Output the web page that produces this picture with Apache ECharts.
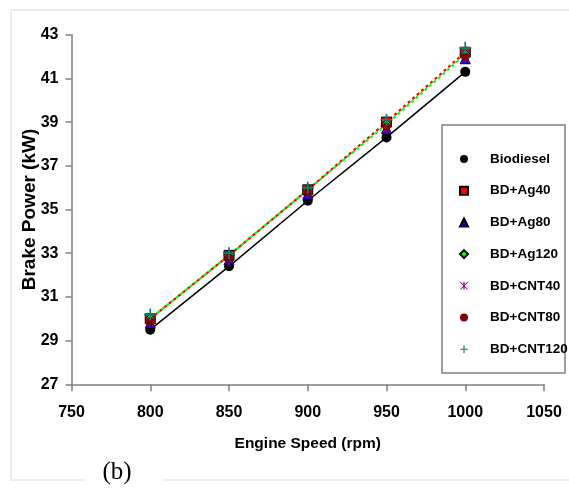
<!DOCTYPE html>
<html>
<head>
<meta charset="utf-8">
<script src="https://cdn.jsdelivr.net/npm/echarts@6/dist/echarts.min.js"></script>
<style>
html,body{margin:0;padding:0;background:#fff;}
#chart{width:569px;height:492px;}
</style>
</head>
<body>
<div id="chart"></div>
<script>
var speeds = [800, 850, 900, 950, 1000];
var xTicks = [750, 800, 850, 900, 950, 1000, 1050];
var yTicks = [27, 29, 31, 33, 35, 37, 39, 41, 43];

var biodiesel = [29.5, 32.4, 35.4, 38.3, 41.3];
var ag40 = [30.0, 32.9, 35.9, 39.0, 42.2];
var ag80 = [29.8, 32.7, 35.7, 38.7, 41.9];
var ag120 = [30.0, 32.9, 35.9, 38.9, 42.1];
var cnt40 = [29.8, 32.7, 35.7, 38.7, 41.9];
var cnt80 = [29.9, 32.8, 35.8, 38.8, 42.0];
var cnt120 = [30.2, 33.0, 36.0, 39.1, 42.4];

var sans = "'Liberation Sans',Arial,sans-serif";
var asterisk = 'path://M4.3,0H5.7V10H4.3Z M0,0.8L0.8,0L10,9.2L9.2,10Z M9.2,0L10,0.8L0.8,10L0,9.2Z';
var plus = 'path://M4.3,0H5.7V4.3H10V5.7H5.7V10H4.3V5.7H0V4.3H4.3Z';

function pairs(vals){
	var out = [];
	for (var i = 0; i < speeds.length; i++) out.push([speeds[i], vals[i]]);
	return out;
}

function mk(name, vals, symbol, size, color, border, line){
	return {
		name: name,
		type: 'line',
		data: pairs(vals),
		symbol: symbol,
		symbolSize: size,
		showSymbol: true,
		itemStyle: { color: color, borderColor: border || color, borderWidth: border ? 1 : 0 },
		lineStyle: line || { opacity: 0 },
		emphasis: { disabled: true },
		animation: false
	};
}

var myChart = echarts.init(document.getElementById('chart'));
var option = {
	backgroundColor: '#fff',
	grid: { left: 71.5, right: 25, top: 34.7, bottom: 107.7, containLabel: false },
	graphic: [
		{ type: 'rect', shape: { x: 11, y: 10, width: 570, height: 470 }, style: { fill: 'none', stroke: '#ececec', lineWidth: 2 }, z: -10 },
		{ type: 'rect', shape: { x: 85, y: 476, width: 78, height: 10 }, style: { fill: '#fff' }, z: -9 },
		{ type: 'text', x: 117, y: 472, style: { text: '(b)', font: "25px 'Liberation Serif','Times New Roman',serif", fill: '#000', align: 'center', verticalAlign: 'middle' }, z: -8 },
		{ type: 'rect', shape: { x: 442, y: 125, width: 123, height: 248 }, style: { fill: '#fff', stroke: '#808080', lineWidth: 1.5 }, z: 5 }
	],
	legend: {
		orient: 'vertical',
		left: 454,
		top: 147,
		itemWidth: 8,
		itemHeight: 8,
		itemGap: 17.7,
		z: 10,
		textStyle: { fontFamily: sans, fontWeight: 'bold', fontSize: 13.5, color: '#000', padding: [0, 0, 0, 17] },
		data: [
			{ name: 'Biodiesel', icon: 'circle' },
			{ name: 'BD+Ag40', icon: 'rect' },
			{ name: 'BD+Ag80', icon: 'triangle' },
			{ name: 'BD+Ag120', icon: 'diamond' },
			{ name: 'BD+CNT40', icon: asterisk },
			{ name: 'BD+CNT80', icon: 'circle' },
			{ name: 'BD+CNT120', icon: plus }
		]
	},
	xAxis: {
		type: 'value',
		min: xTicks[0],
		max: xTicks[xTicks.length - 1],
		interval: 50,
		name: 'Engine Speed (rpm)',
		nameLocation: 'middle',
		nameGap: 51,
		nameMoveOverlap: false,
		nameTextStyle: { fontFamily: sans, fontWeight: 'bold', fontSize: 15.5, color: '#000' },
		axisLine: { lineStyle: { color: '#808080', width: 1.5 } },
		axisTick: { inside: false, length: 7, lineStyle: { color: '#808080', width: 1.5 } },
		axisLabel: { margin: 20, fontFamily: sans, fontWeight: 'bold', fontSize: 16, color: '#000', formatter: function(v){ return String(v); } },
		splitLine: { show: false }
	},
	yAxis: {
		type: 'value',
		min: yTicks[0],
		max: yTicks[yTicks.length - 1],
		interval: 2,
		name: 'Brake Power (kW)',
		nameLocation: 'middle',
		nameGap: 32,
		nameMoveOverlap: false,
		nameTextStyle: { fontFamily: sans, fontWeight: 'bold', fontSize: 19, color: '#000' },
		axisLine: { show: true, lineStyle: { color: '#808080', width: 1.5 } },
		axisTick: { show: true, inside: false, length: 6, lineStyle: { color: '#808080', width: 1.5 } },
		axisLabel: { margin: 13, fontFamily: sans, fontWeight: 'bold', fontSize: 16, color: '#000', formatter: function(v){ return String(v); } },
		splitLine: { show: false }
	},
	series: [
		mk('Biodiesel', biodiesel, 'circle', 10, '#000', null, { color: '#000', width: 1.5 }),
		mk('BD+Ag40', ag40, 'rect', 10, '#ff0000', '#000', { color: '#ff0000', width: 2.2, type: [3, 3] }),
		mk('BD+Ag80', ag80, 'triangle', 10, '#0000ff', '#000'),
		mk('BD+Ag120', ag120, 'diamond', 10, '#00ff00', '#000', { color: '#00ff00', width: 2.2, type: [3, 3], dashOffset: 3 }),
		mk('BD+CNT40', cnt40, asterisk, 10, '#800080'),
		mk('BD+CNT80', cnt80, 'circle', 8, '#800000'),
		mk('BD+CNT120', cnt120, plus, 12, '#008080')
	]
};
myChart.setOption(option);
</script>
</body>
</html>
